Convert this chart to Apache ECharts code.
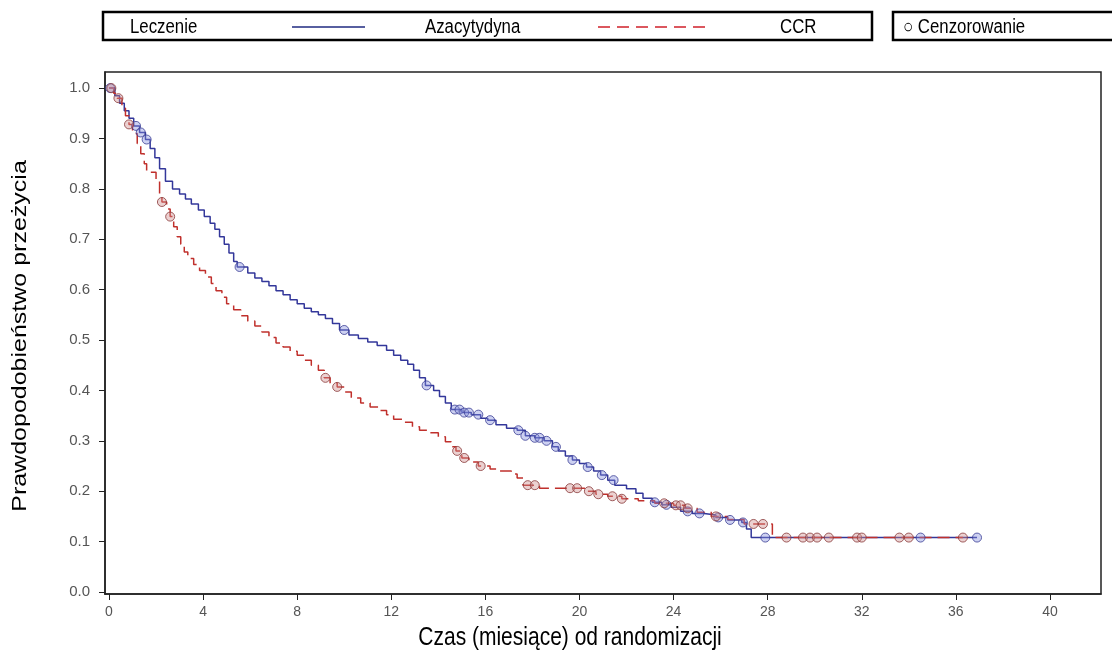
<!DOCTYPE html>
<html>
<head>
<meta charset="utf-8">
<script src="https://cdn.jsdelivr.net/npm/echarts@6/dist/echarts.min.js"></script>
<style>
html,body{margin:0;padding:0;background:#fff;}
#chart{width:1112px;height:653px;}
</style>
</head>
<body>
<div id="chart"></div>
<script>
// ---- data (months, survival probability) ----
const xTicks = [0, 4, 8, 12, 16, 20, 24, 28, 32, 36, 40];
const yTicks = [0, 0.1, 0.2, 0.3, 0.4, 0.5, 0.6, 0.7, 0.8, 0.9, 1.0];

const azaCurve = [
  [0,1.0],[0.25,0.985],[0.45,0.97],[0.65,0.955],[0.85,0.94],[1.05,0.925],[1.3,0.912],[1.55,0.898],
  [1.75,0.88],[1.95,0.862],[2.15,0.84],[2.4,0.815],[2.7,0.8],[3.0,0.79],[3.25,0.78],[3.5,0.77],
  [3.8,0.758],[4.05,0.745],[4.3,0.732],[4.5,0.72],[4.7,0.705],[4.9,0.69],[5.1,0.673],[5.3,0.656],
  [5.45,0.645],[5.9,0.633],[6.2,0.623],[6.5,0.616],[6.8,0.608],[7.1,0.598],[7.4,0.59],[7.7,0.58],
  [8.0,0.572],[8.3,0.563],[8.6,0.556],[8.9,0.55],[9.2,0.543],[9.5,0.533],[9.8,0.52],[10.2,0.51],
  [10.6,0.503],[11.0,0.496],[11.4,0.489],[11.8,0.48],[12.1,0.47],[12.4,0.46],[12.7,0.452],[12.95,0.44],
  [13.2,0.425],[13.45,0.41],[13.8,0.4],[14.05,0.388],[14.3,0.375],[14.55,0.362],[15.0,0.356],[15.4,0.352],
  [15.8,0.345],[16.1,0.341],[16.45,0.332],[16.9,0.325],[17.35,0.321],[17.7,0.31],[18.1,0.306],[18.5,0.3],
  [18.85,0.288],[19.1,0.28],[19.4,0.27],[19.7,0.262],[20.0,0.255],[20.3,0.248],[20.6,0.24],[20.9,0.232],
  [21.2,0.222],[21.5,0.212],[22.0,0.205],[22.4,0.196],[22.7,0.186],[23.1,0.178],[23.5,0.173],[23.9,0.168],
  [24.3,0.16],[24.8,0.156],[25.3,0.153],[25.8,0.148],[26.3,0.143],[26.9,0.138],[27.1,0.125],[27.3,0.108],
  [36.9,0.108]
];

const ccrCurve = [
  [0,1.0],[0.2,0.99],[0.35,0.98],[0.55,0.96],[0.7,0.945],[0.85,0.928],[1.0,0.91],[1.2,0.89],
  [1.35,0.87],[1.5,0.85],[1.6,0.833],[2.0,0.815],[2.15,0.79],[2.25,0.774],[2.45,0.76],[2.6,0.745],
  [2.75,0.725],[2.9,0.705],[3.05,0.69],[3.2,0.675],[3.35,0.662],[3.6,0.65],[3.85,0.638],[4.1,0.625],
  [4.35,0.612],[4.55,0.598],[4.8,0.585],[5.0,0.572],[5.3,0.56],[5.6,0.548],[5.9,0.538],[6.2,0.528],
  [6.5,0.516],[6.8,0.505],[7.1,0.494],[7.4,0.486],[7.7,0.478],[8.0,0.47],[8.3,0.46],[8.6,0.45],
  [8.9,0.44],[9.15,0.425],[9.4,0.415],[9.7,0.407],[10.0,0.397],[10.3,0.385],[10.7,0.375],[11.1,0.367],
  [11.5,0.36],[11.8,0.352],[12.1,0.343],[12.5,0.337],[12.9,0.328],[13.2,0.321],[13.6,0.316],[14.0,0.308],
  [14.3,0.298],[14.55,0.288],[14.75,0.28],[15.0,0.266],[15.3,0.258],[15.7,0.25],[16.2,0.244],[16.6,0.24],
  [17.1,0.234],[17.35,0.226],[17.6,0.212],[18.3,0.206],[20.3,0.2],[20.7,0.194],[21.2,0.19],[21.8,0.185],
  [22.5,0.181],[23.2,0.176],[24.0,0.172],[24.5,0.166],[25.0,0.158],[25.6,0.15],[26.3,0.144],[27.0,0.135],
  [28.2,0.108],[36.3,0.108]
];

const azaCensored = [
  [0.05,1.0],[1.15,0.925],[1.35,0.912],[1.6,0.898],[5.55,0.645],[10.0,0.52],[13.5,0.41],
  [14.7,0.362],[14.9,0.362],[15.1,0.356],[15.3,0.356],[15.7,0.352],[16.2,0.341],[17.4,0.321],
  [17.7,0.31],[18.1,0.306],[18.3,0.306],[18.6,0.3],[19.0,0.288],[19.7,0.262],[20.35,0.248],
  [20.95,0.232],[21.45,0.222],[23.2,0.178],[23.7,0.173],[24.6,0.16],[25.1,0.156],[25.9,0.148],
  [26.4,0.143],[26.95,0.138],[27.9,0.108],[34.5,0.108],[36.9,0.108]
];

const ccrCensored = [
  [0.1,1.0],[0.4,0.98],[0.85,0.928],[2.25,0.774],[2.6,0.745],[9.2,0.425],[9.7,0.407],
  [14.8,0.28],[15.1,0.266],[15.8,0.25],[17.8,0.212],[18.1,0.212],[19.6,0.206],[19.9,0.206],
  [20.4,0.2],[20.8,0.194],[21.4,0.19],[21.8,0.185],[23.6,0.176],[24.1,0.172],[24.3,0.172],
  [24.6,0.166],[25.8,0.15],[27.4,0.135],[27.8,0.135],[28.8,0.108],[29.5,0.108],[29.8,0.108],
  [30.1,0.108],[30.6,0.108],[31.8,0.108],[32.0,0.108],[33.6,0.108],[34.0,0.108],[36.3,0.108]
];

const legendTexts = ['Leczenie', 'Azacytydyna', 'CCR', '\u25CB Cenzorowanie'];
const xTitle = 'Czas (miesiące) od randomizacji';
const yTitle = 'Prawdopodobieństwo przeżycia';

// ---- chart ----
const BLUE = '#33379a';
const RED = '#c0302c';
const FONT = '"Liberation Sans", Arial, sans-serif';
const SQ = 0.84; // horizontal squeeze of the reference text

const chart = echarts.init(document.getElementById('chart'), null, {renderer: 'canvas'});
chart.setOption({
  animation: false,
  backgroundColor: '#ffffff',
  grid: {left: 105, right: 11, top: 72, bottom: 59, show: true, borderColor: '#222', borderWidth: 1.5, backgroundColor: 'transparent'},
  xAxis: {
    type: 'value', min: -0.17, max: 42.17,
    axisLine: {show: true, onZero: false, lineStyle: {color: '#222', width: 1.5}},
    axisTick: {show: true, length: 6, customValues: xTicks, lineStyle: {color: '#222'}},
    axisLabel: {customValues: xTicks, color: '#555', fontSize: 14, fontFamily: '"Liberation Sans Narrow", ' + FONT, margin: 11},
    splitLine: {show: false}
  },
  yAxis: {
    type: 'value', min: -0.004, max: 1.032,
    axisLine: {show: true, onZero: false, lineStyle: {color: '#222', width: 1.5}},
    axisTick: {show: true, length: 6, customValues: yTicks, lineStyle: {color: '#222'}},
    axisLabel: {customValues: yTicks, color: '#555', fontSize: 15, fontFamily: FONT, margin: 15,
      formatter: v => Number(v).toFixed(1)},
    splitLine: {show: false}
  },
  graphic: [
    {type: 'rect', shape: {x: 103, y: 12, width: 769, height: 28}, style: {fill: 'none', stroke: '#000', lineWidth: 2.5}},
    {type: 'text', x: 130, y: 27, scaleX: SQ, style: {text: legendTexts[0], font: '20px ' + FONT, fill: '#000', verticalAlign: 'middle'}},
    {type: 'line', shape: {x1: 292, y1: 27, x2: 365, y2: 27}, style: {stroke: '#1f2a80', lineWidth: 1.5}},
    {type: 'text', x: 425, y: 27, scaleX: SQ, style: {text: legendTexts[1], font: '20px ' + FONT, fill: '#000', verticalAlign: 'middle'}},
    {type: 'line', shape: {x1: 598, y1: 27, x2: 712, y2: 27}, style: {stroke: '#d0202a', lineWidth: 1.5, lineDash: [12, 7]}},
    {type: 'text', x: 780, y: 27, scaleX: SQ, style: {text: legendTexts[2], font: '20px ' + FONT, fill: '#000', verticalAlign: 'middle'}},
    {type: 'rect', shape: {x: 893, y: 12, width: 230, height: 28}, style: {fill: 'none', stroke: '#000', lineWidth: 2.5}},
    {type: 'text', x: 903, y: 27, scaleX: SQ, style: {text: legendTexts[3], font: '20px ' + FONT, fill: '#000', verticalAlign: 'middle'}},
    {type: 'text', x: 570, y: 638, scaleX: SQ, style: {text: xTitle, font: '25px ' + FONT, fill: '#000', align: 'center', verticalAlign: 'middle'}},
    {type: 'text', x: 20, y: 336, rotation: Math.PI / 2, scaleY: SQ, style: {text: yTitle, font: '25px ' + FONT, fill: '#000', align: 'center', verticalAlign: 'middle'}}
  ],
  series: [
    {name: 'Azacytydyna', type: 'line', step: 'end', data: azaCurve, showSymbol: false, z: 2,
      lineStyle: {color: BLUE, width: 1.5}},
    {name: 'CCR', type: 'line', step: 'end', data: ccrCurve, showSymbol: false, z: 3,
      lineStyle: {color: RED, width: 1.5, type: [12, 6]}},
    {name: 'Azacytydyna cens', type: 'scatter', data: azaCensored, symbol: 'circle', symbolSize: 9, z: 4,
      itemStyle: {color: 'rgba(130,140,220,0.5)', borderColor: '#3b3f95', borderWidth: 1}},
    {name: 'CCR cens', type: 'scatter', data: ccrCensored, symbol: 'circle', symbolSize: 9, z: 5,
      itemStyle: {color: 'rgba(205,140,140,0.5)', borderColor: '#8a3a3a', borderWidth: 1}}
  ]
});
</script>
</body>
</html>
